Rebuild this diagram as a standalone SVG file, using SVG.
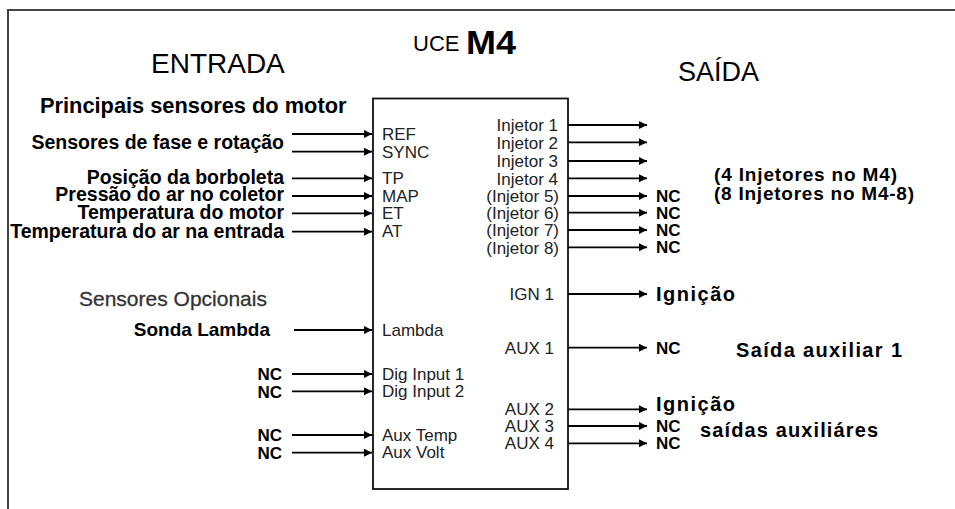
<svg xmlns="http://www.w3.org/2000/svg" width="955" height="509" viewBox="0 0 955 509">
<defs>
<marker id="ah" markerUnits="userSpaceOnUse" markerWidth="9" markerHeight="9" refX="8" refY="4" orient="auto">
<path d="M0,0 L8,4 L0,8 z" fill="#000"/>
</marker>
<style>
.frame{fill:none;stroke:#444;stroke-width:2}
.box{fill:#fff;stroke:#111;stroke-width:1.8}
.c line{stroke:#000;stroke-width:1.8;marker-end:url(#ah)}
text{font-family:"Liberation Sans",Arial,sans-serif}
.pin{font-size:17px;fill:#222}
.pr{font-size:17px;fill:#222;text-anchor:end}
.lb{font-size:19.5px;font-weight:bold;fill:#000;text-anchor:end}
.nc{font-size:17px;font-weight:bold;fill:#000}
.ncl{font-size:17px;font-weight:bold;fill:#000;text-anchor:end}
.rb{font-size:20px;font-weight:bold;fill:#000}
.hd{font-size:28px;fill:#000}
</style>
</defs>
<rect width="955" height="509" fill="#fff"/>
<path class="frame" d="M8,509 V10 H955"/>

<g id="titles">
<text x="413" y="51" style="font-size:22px">UCE</text>
<text x="466" y="54" style="font-size:33px;font-weight:bold" textLength="50" lengthAdjust="spacingAndGlyphs">M4</text>
<text class="hd" x="151" y="73">ENTRADA</text>
<text x="678" y="81" style="font-size:27px">SAÍDA</text>
<text x="40" y="113" style="font-size:21.8px;font-weight:bold">Principais sensores do motor</text>
<text x="79" y="306" style="font-size:21px;fill:#333;stroke:#333;stroke-width:0.3">Sensores Opcionais</text>
</g>

<g id="uce">
<rect class="box" x="373" y="98.5" width="195" height="390.5"/>
<text class="pin" x="382" y="140">REF</text>
<text class="pin" x="382" y="158">SYNC</text>
<text class="pin" x="382" y="184">TP</text>
<text class="pin" x="382" y="201.5">MAP</text>
<text class="pin" x="382" y="219">ET</text>
<text class="pin" x="382" y="237">AT</text>
<text class="pin" x="382" y="335.5">Lambda</text>
<text class="pin" x="382" y="379.5">Dig Input 1</text>
<text class="pin" x="382" y="397">Dig Input 2</text>
<text class="pin" x="382" y="440.5">Aux Temp</text>
<text class="pin" x="382" y="458">Aux Volt</text>
<text class="pr" x="558" y="131">Injetor 1</text>
<text class="pr" x="558" y="148.5">Injetor 2</text>
<text class="pr" x="558" y="167">Injetor 3</text>
<text class="pr" x="558" y="184.5">Injetor 4</text>
<text class="pr" x="559" y="202">(Injetor 5)</text>
<text class="pr" x="559" y="219">(Injetor 6)</text>
<text class="pr" x="559" y="236">(Injetor 7)</text>
<text class="pr" x="559" y="253.5">(Injetor 8)</text>
<text class="pr" x="554" y="300">IGN 1</text>
<text class="pr" x="554" y="353.5">AUX 1</text>
<text class="pr" x="554" y="415">AUX 2</text>
<text class="pr" x="554" y="432">AUX 3</text>
<text class="pr" x="554" y="449">AUX 4</text>
</g>

<g id="inputs">
<text class="lb" x="284" y="149">Sensores de fase e rotação</text>
<text class="lb" x="284" y="184">Posição da borboleta</text>
<text class="lb" x="284" y="201">Pressão do ar no coletor</text>
<text class="lb" x="284" y="219">Temperatura do motor</text>
<text class="lb" x="284" y="238">Temperatura do ar na entrada</text>
<text class="lb" x="270" y="336" style="font-size:19px">Sonda Lambda</text>
<text class="ncl" x="282" y="380">NC</text>
<text class="ncl" x="282" y="397.5">NC</text>
<text class="ncl" x="282" y="441">NC</text>
<text class="ncl" x="282" y="459">NC</text>
</g>

<g id="outputs">
<text class="nc" x="656" y="202">NC</text>
<text class="nc" x="656" y="219">NC</text>
<text class="nc" x="656" y="236">NC</text>
<text class="nc" x="656" y="253">NC</text>
<text x="714" y="181" style="font-size:19px;font-weight:bold" textLength="183" lengthAdjust="spacing">(4 Injetores no M4)</text>
<text x="714" y="200" style="font-size:19px;font-weight:bold" textLength="200" lengthAdjust="spacing">(8 Injetores no M4-8)</text>
<text class="rb" x="656" y="301" textLength="79" lengthAdjust="spacing">Ignição</text>
<text class="nc" x="656" y="354">NC</text>
<text class="rb" x="736" y="356.5" textLength="166" lengthAdjust="spacing">Saída auxiliar 1</text>
<text class="rb" x="656" y="410.5" textLength="79" lengthAdjust="spacing">Ignição</text>
<text class="nc" x="656" y="432">NC</text>
<text class="nc" x="656" y="449">NC</text>
<text class="rb" x="700" y="437" textLength="178" lengthAdjust="spacing">saídas auxiliáres</text>
</g>

<g id="connectors" class="c">
<line x1="292" y1="134" x2="372" y2="134"/>
<line x1="292" y1="151.7" x2="372" y2="151.7"/>
<line x1="292" y1="178.3" x2="372" y2="178.3"/>
<line x1="292" y1="196" x2="372" y2="196"/>
<line x1="292" y1="213.3" x2="372" y2="213.3"/>
<line x1="292" y1="231.7" x2="372" y2="231.7"/>
<line x1="294" y1="330" x2="372" y2="330"/>
<line x1="292" y1="374" x2="372" y2="374"/>
<line x1="292" y1="391.3" x2="372" y2="391.3"/>
<line x1="292" y1="435" x2="372" y2="435"/>
<line x1="292" y1="452.7" x2="372" y2="452.7"/>
<line x1="568" y1="125" x2="647" y2="125"/>
<line x1="568" y1="142.3" x2="647" y2="142.3"/>
<line x1="568" y1="161" x2="647" y2="161"/>
<line x1="568" y1="178.3" x2="647" y2="178.3"/>
<line x1="568" y1="196" x2="647" y2="196"/>
<line x1="568" y1="212.7" x2="647" y2="212.7"/>
<line x1="568" y1="230" x2="647" y2="230"/>
<line x1="568" y1="247.3" x2="647" y2="247.3"/>
<line x1="568" y1="294" x2="647" y2="294"/>
<line x1="568" y1="347.7" x2="647" y2="347.7"/>
<line x1="568" y1="409.3" x2="647" y2="409.3"/>
<line x1="568" y1="426" x2="647" y2="426"/>
<line x1="568" y1="443.3" x2="647" y2="443.3"/>
</g>
</svg>
